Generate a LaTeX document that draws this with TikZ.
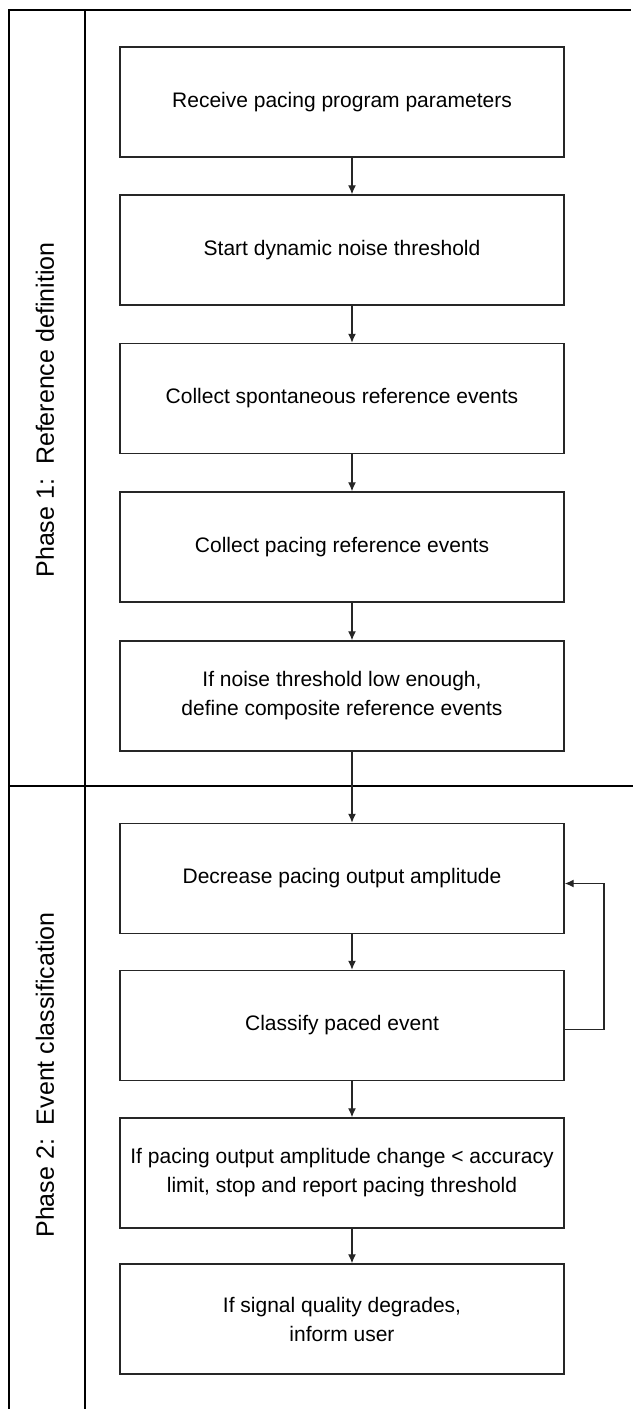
\documentclass[tikz,border=0pt]{standalone}
\usepackage{fontspec}
\setmainfont{Liberation Sans}
\usetikzlibrary{arrows.meta}
\begin{document}
\begin{tikzpicture}[x=1pt,y=-1pt,
  stepbox/.style={draw=black!85,line width=1.4pt,minimum width=444pt,minimum height=110pt,
    align=center,inner sep=0pt,font=\fontsize{21}{29}\selectfont},
  conn/.style={draw=black!85,line width=1.3pt,-{Latex[length=9pt,width=8pt]}},
  frame/.style={draw=black,line width=1.5pt},
  phaselabel/.style={rotate=90,font=\fontsize{25}{30}\selectfont}]
\useasboundingbox (0,0) rectangle (633,1409);
% frame
\coordinate (tl) at (9,10);
\coordinate (tr) at (631,10);
\coordinate (bl) at (9,1409);
\coordinate (ct) at (85,10);
\coordinate (cb) at (85,1409);
\coordinate (dl) at (9,786);
\coordinate (dr) at (633,786);
\draw[frame] (bl) -- (tl) -- (tr);
\draw[frame] (ct) -- (cb);
\draw[frame] (dl) -- (dr);
\node[phaselabel] (p1) at (45,410) {Phase 1:\ \ Reference definition};
\node[phaselabel] (p2) at (45,1075) {Phase 2:\ \ Event classification};
% boxes
\node[stepbox] (b1) at (342,102) {Receive pacing program parameters};
\node[stepbox] (b2) at (342,250) {Start dynamic noise threshold};
\node[stepbox] (b3) at (342,398.5) {Collect spontaneous reference events};
\node[stepbox] (b4) at (342,547) {Collect pacing reference events};
\node[stepbox] (b5) at (342,696) {If noise threshold low enough,\\define composite reference events};
\node[stepbox] (b6) at (342,878.5) {Decrease pacing output amplitude};
\node[stepbox] (b7) at (342,1025.5) {Classify paced event};
\node[stepbox] (b8) at (342,1173) {If pacing output amplitude change < accuracy\\limit, stop and report pacing threshold};
\node[stepbox] (b9) at (342,1319) {If signal quality degrades,\\inform user};
% connectors
\foreach \a/\b in {b1/b2,b2/b3,b3/b4,b4/b5,b5/b6,b6/b7,b7/b8,b8/b9}
  \draw[conn] ([xshift=10pt]\a.south) -- ([xshift=10pt]\b.north);
\coordinate (loopr) at (604,0);
\draw[conn] ([yshift=-4pt]b7.east) -- ([yshift=-4pt]b7.east -| loopr) -- ([yshift=-5pt]b6.east -| loopr) -- ([yshift=-5pt]b6.east);
\end{tikzpicture}
\end{document}
